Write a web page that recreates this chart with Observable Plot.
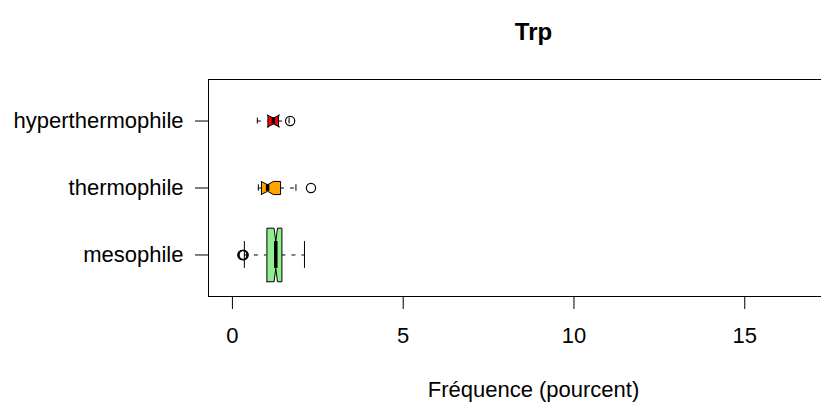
<!DOCTYPE html>
<html>
<head>
<meta charset="utf-8">
<script src="https://cdn.jsdelivr.net/npm/d3@7"></script>
<script src="https://cdn.jsdelivr.net/npm/@observablehq/plot@0.6"></script>
<style>
  html, body { margin: 0; padding: 0; background: #fff; overflow: hidden; }
  #chart { width: 821px; height: 403px; overflow: hidden; }
  #chart svg { max-width: none !important; }
</style>
</head>
<body>
<div id="chart"></div>
<script>
// Tryptophan frequency by thermal class: notched, variable-width box plots
const groups    = ["mesophile", "thermophile", "hyperthermophile"];
const fills     = ["#90EE90", "#FFA500", "#FF0000"];
const counts    = [300, 18, 15];              // genomes per class (box height ~ sqrt(n))
const whiskerLo = [0.35, 0.76, 0.73];
const q1        = [1.01, 0.85, 1.04];
const median    = [1.27, 1.03, 1.20];
const q3        = [1.45, 1.41, 1.35];
const whiskerHi = [2.11, 1.86, 1.66];
const notchLo   = [1.22, 0.84, 1.02];
const notchHi   = [1.32, 1.20, 1.38];
const outliers  = [[0.29, 0.31, 0.33], [2.30], [1.69]];
const xTicks    = [0, 5, 10, 15];
const title     = "Trp";
const xLabel    = "Fréquence (pourcent)";

const nMax = Math.max(...counts);
const rows = groups.map((g, i) => ({
  group: g, c: i + 1, w: 0.4 * Math.sqrt(counts[i] / nMax),
  lo: whiskerLo[i], q1: q1[i], med: median[i], q3: q3[i], hi: whiskerHi[i],
  nlo: notchLo[i], nhi: notchHi[i], fill: fills[i]
}));

// notched box outline, as R's bxp draws it
function boxOutline(r) {
  const xs = [r.q1, r.q1, r.nlo, r.med, r.nhi, r.q3, r.q3, r.nhi, r.med, r.nlo, r.q1];
  const ys = [-r.w, r.w, r.w, r.w / 2, r.w, r.w, -r.w, -r.w, -r.w / 2, -r.w, -r.w];
  return xs.map((x, k) => ({ x, y: r.c + ys[k] }));
}

const outlierRows = groups.flatMap((g, i) => outliers[i].map(v => ({ x: v, y: i + 1 })));

const chart = Plot.plot({
  width: 880,
  height: 403,
  marginLeft: 208,
  marginRight: 22,
  marginTop: 79,
  marginBottom: 107,
  style: { fontFamily: "'Liberation Sans', Arial, Helvetica, sans-serif", fontSize: "22px", color: "black", background: "white", maxWidth: "none" },
  x: { domain: [-0.70, 18.33], label: null },
  y: { domain: [0.38, 3.62], label: null },
  marks: [
    Plot.frame({ stroke: "black" }),
    // whiskers, dashed from the whisker end toward the box
    Plot.ruleY(rows, { y: "c", x1: "lo", x2: "q1", stroke: "black", strokeDasharray: "4,6" }),
    Plot.ruleY(rows, { y: "c", x1: "q3", x2: "hi", stroke: "black", strokeDasharray: "4,6" }),
    // staples
    Plot.ruleX(rows, { x: "lo", y1: d => d.c - d.w / 2, y2: d => d.c + d.w / 2, stroke: "black" }),
    Plot.ruleX(rows, { x: "hi", y1: d => d.c - d.w / 2, y2: d => d.c + d.w / 2, stroke: "black" }),
    // boxes
    ...rows.map(r => Plot.line(boxOutline(r), { x: "x", y: "y", fill: r.fill, stroke: "black", strokeWidth: 1, curve: "linear" })),
    // medians
    Plot.ruleX(rows, { x: "med", y1: d => d.c - d.w / 2, y2: d => d.c + d.w / 2, stroke: "black", strokeWidth: 3.5 }),
    // outliers
    Plot.dot(outlierRows, { x: "x", y: "y", r: 4.6, stroke: "black", strokeWidth: 1.2, fill: "none" }),
    // axes
    Plot.axisX({ ticks: xTicks, tickSize: 13, tickPadding: 18, fontSize: 22, label: null }),
    Plot.axisY({ ticks: [1, 2, 3], tickFormat: d => groups[d - 1], tickSize: 13, tickPadding: 12, fontSize: 22, label: null }),
    // title and axis label
    Plot.text([title], { frameAnchor: "top", lineAnchor: "middle", dy: -47, fontWeight: "bold", fontSize: 24 }),
    Plot.text([xLabel], { frameAnchor: "bottom", lineAnchor: "middle", dy: 93, fontSize: 22 })
  ]
});

document.getElementById("chart").appendChild(chart);
</script>
</body>
</html>
